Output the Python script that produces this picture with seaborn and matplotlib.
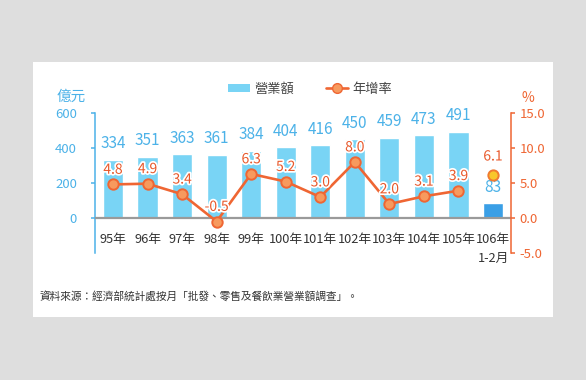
import matplotlib
matplotlib.use('Agg')
import matplotlib.pyplot as plt
import seaborn as sns
import pandas as pd
import numpy as np
from matplotlib.patches import Rectangle, Patch
from matplotlib.lines import Line2D
import matplotlib.patheffects as pe
from matplotlib.ticker import FormatStrFormatter

years = ["95年", "96年", "97年", "98年", "99年", "100年", "101年", "102年",
         "103年", "104年", "105年", "106年"]
last_sub = "1-2月"
revenue = [334, 351, 363, 361, 384, 404, 416, 450, 459, 473, 491, 83]
growth = [4.8, 4.9, 3.4, -0.5, 6.3, 5.2, 3.0, 8.0, 2.0, 3.1, 3.9, 6.1]
left_ticks = [0, 200, 400, 600]
right_ticks = [-5, 0, 5, 10, 15]

CYAN = '#79d4f5'
BLUE = '#3a9fe6'
AXBLUE = '#4cb2e8'
ORANGE = '#ef6633'
LABORANGE = '#e8582a'

sns.set_theme(style='white')
plt.rcParams['font.family'] = ['Noto Sans CJK TC', 'DejaVu Sans']

fig = plt.figure(figsize=(5.86, 3.8), dpi=100, facecolor='#dedede')
fig.patches.append(Rectangle((33 / 586, 1 - 317 / 380), 520 / 586, 255 / 380,
                             transform=fig.transFigure, facecolor='white',
                             edgecolor='none', zorder=-5))

ax = fig.add_axes([95 / 586, 1 - 253 / 380, 416 / 586, 140 / 380])
ax.patch.set_alpha(0)
ax.set_zorder(1)

df = pd.DataFrame({'year': years, 'revenue': revenue, 'growth': growth})
palette = [CYAN] * (len(years) - 1) + [BLUE]
sns.barplot(data=df, x='year', y='revenue', hue='year', palette=palette,
            legend=False, width=0.58, saturation=1, ax=ax, zorder=2)

ax.set_ylim(-200, 600)
ax.set_yticks(left_ticks)
ax.set_xlim(-0.52, len(years) - 1 + 0.52)
ax.axhline(0, color='#9a9a9a', lw=1.6, zorder=3)
ax.set_xlabel('')
ax.set_ylabel('')
ax.set_xticks(range(len(years)))
xt = years[:-1] + [years[-1] + '\n' + last_sub]
ax.set_xticklabels(xt, fontsize=9.2, color='#333333', linespacing=1.6)
ax.tick_params(axis='x', length=0, pad=-14.5)
ax.tick_params(axis='y', colors=AXBLUE, labelsize=9.5, length=3, width=1.1,
               direction='out', pad=10, left=True)
for s in ['top', 'right', 'bottom']:
    ax.spines[s].set_visible(False)
ax.spines['left'].set_color(AXBLUE)
ax.spines['left'].set_linewidth(1.1)

for i, v in enumerate(revenue):
    ax.annotate(str(v), (i, v), xytext=(0, 5.5), textcoords='offset points',
                ha='center', va='bottom', fontsize=11, color=AXBLUE, zorder=5)

ax2 = ax.twinx()
ax2.set_zorder(2)
ax2.patch.set_alpha(0)
ax2.set_ylim(-5, 15)
ax2.set_yticks(right_ticks)
ax2.yaxis.set_major_formatter(FormatStrFormatter('%.1f'))
for s in ['top', 'left', 'bottom']:
    ax2.spines[s].set_visible(False)
ax2.spines['right'].set_color(ORANGE)
ax2.spines['right'].set_linewidth(1.1)
ax2.tick_params(axis='y', colors=ORANGE, labelsize=9.5, length=3, width=1.1,
                direction='out', pad=3, right=True)

n = len(years) - 1
xs = np.arange(n)
sns.lineplot(x=xs, y=growth[:n], ax=ax2, color=ORANGE, lw=1.9, marker='o',
             markersize=7.5, markerfacecolor='#f79a5e', markeredgecolor=ORANGE,
             markeredgewidth=1.4, zorder=4)
sns.scatterplot(x=[n], y=[growth[n]], ax=ax2, s=55, color='#f8c72a',
                edgecolor='#f07a30', linewidth=1.4, zorder=4)
ax2.set_xlim(-0.52, len(years) - 1 + 0.52)

stroke = [pe.withStroke(linewidth=2.5, foreground='white')]
for i, g in enumerate(growth):
    off = 8.5 if i == n else 5.5
    ax2.annotate(f"{g:.1f}", (i, g), xytext=(0, off), textcoords='offset points',
                 ha='center', va='bottom', fontsize=10, color=LABORANGE,
                 path_effects=stroke, zorder=6)

handles = [Patch(facecolor=CYAN, edgecolor='none'),
           Line2D([0], [0], color=ORANGE, lw=1.9, marker='o', markersize=7,
                  markerfacecolor='#f79a5e', markeredgecolor=ORANGE)]
fig.legend(handles, ['營業額', '年增率'], loc='center',
           bbox_to_anchor=(310 / 586, 1 - 89 / 380), ncol=2, frameon=False,
           fontsize=9.5, handlelength=1.7, handleheight=0.6, columnspacing=2.4,
           handletextpad=0.3, labelcolor='#444444')

fig.text(57 / 586, 1 - 97 / 380, '億元', ha='left', va='center', color=AXBLUE,
         fontsize=10.5)
fig.text(522 / 586, 1 - 98 / 380, '%', ha='left', va='center', color=ORANGE,
         fontsize=10)
fig.text(40 / 586, 1 - 296 / 380,
         '資料來源：經濟部統計處按月「批發、零售及餐飲業營業額調查」。',
         ha='left', va='center', fontsize=7.7, color='#333333')

fig.savefig('out.png', dpi=100, facecolor=fig.get_facecolor())
